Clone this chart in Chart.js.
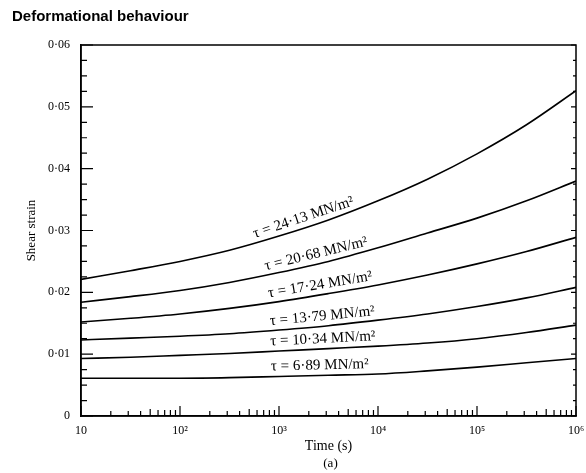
<!DOCTYPE html>
<html>
<head>
<meta charset="utf-8">
<script src="https://cdn.jsdelivr.net/npm/chart.js@4"></script>
<style>
  html, body { margin: 0; padding: 0; background: #fff; }
  #wrap { width: 586px; height: 473px; }
</style>
</head>
<body>
<div id="wrap"><canvas id="chart"></canvas></div>
<script>
// Deformational behaviour - shear strain vs time
const times = [10, 31.6, 100, 316, 1000, 3162, 10000, 31623, 100000, 316228, 1000000];

const strain2413 = [0.0221, 0.0235, 0.0250, 0.0268, 0.0291, 0.0317, 0.0348, 0.0383, 0.0424, 0.0471, 0.0526];
const strain2068 = [0.0184, 0.0193, 0.0203, 0.0216, 0.0232, 0.0250, 0.0272, 0.0296, 0.0320, 0.0348, 0.0380];
const strain1724 = [0.0152, 0.0158, 0.0165, 0.0174, 0.0185, 0.0198, 0.0212, 0.0228, 0.0246, 0.0266, 0.0289];
const strain1379 = [0.0123, 0.0126, 0.0129, 0.0133, 0.0139, 0.0146, 0.0155, 0.0165, 0.0177, 0.0191, 0.0208];
const strain1034 = [0.0093, 0.0095, 0.0098, 0.0101, 0.0105, 0.0109, 0.0113, 0.0118, 0.0125, 0.0135, 0.0147];
const strain689  = [0.0061, 0.0061, 0.0061, 0.0062, 0.0064, 0.0066, 0.0068, 0.0073, 0.0079, 0.0086, 0.0093];

const seriesLabels = ['τ = 24·13 MN/m²', 'τ = 20·68 MN/m²', 'τ = 17·24 MN/m²',
                      'τ = 13·79 MN/m²', 'τ = 10·34 MN/m²', 'τ = 6·89 MN/m²'];
const labelTimes = [1900, 2500, 2700, 2800, 2800, 2600];

const xMajorTicks = [10, 100, 1000, 10000, 100000, 1000000];
const xTickLabels = ['10', '10²', '10³', '10⁴', '10⁵', '10⁶'];
const xMinorMult = [2, 3, 4, 5, 6, 7, 8, 9];
const yMajorTicks = [0, 0.01, 0.02, 0.03, 0.04, 0.05, 0.06];
const yMinorTicks = [0.0025, 0.005, 0.0075, 0.0125, 0.015, 0.0175, 0.0225, 0.025, 0.0275,
                     0.0325, 0.035, 0.0375, 0.0425, 0.045, 0.0475, 0.0525, 0.055, 0.0575];

const serif = "'Liberation Serif', 'DejaVu Serif', serif";

const allSeries = [strain2413, strain2068, strain1724, strain1379, strain1034, strain689];

const datasets = allSeries.map((vals, i) => ({
    label: seriesLabels[i],
    data: times.map((t, j) => ({ x: t, y: vals[j] })),
    borderColor: '#000',
    borderWidth: 1.6,
    pointRadius: 0,
    fill: false,
    cubicInterpolationMode: 'monotone'
}));

// ticks pointing inwards, box around the plot, text extras
const decorPlugin = {
    id: 'decor',
    afterDraw(chart) {
        const ctx = chart.ctx;
        const area = chart.chartArea;
        const xs = chart.scales.x;
        const ys = chart.scales.y;
        ctx.save();
        ctx.strokeStyle = '#000';
        ctx.lineWidth = 1.5;
        ctx.strokeRect(area.left, area.top, area.right - area.left, area.bottom - area.top);

        ctx.lineWidth = 1.2;
        ctx.beginPath();
        yMajorTicks.forEach(v => {
            const y = ys.getPixelForValue(v);
            ctx.moveTo(area.left, y); ctx.lineTo(area.left + 12, y);
            ctx.moveTo(area.right, y); ctx.lineTo(area.right - 5, y);
        });
        yMinorTicks.forEach(v => {
            const y = ys.getPixelForValue(v);
            ctx.moveTo(area.left, y); ctx.lineTo(area.left + 6, y);
            ctx.moveTo(area.right, y); ctx.lineTo(area.right - 3, y);
        });
        xMajorTicks.forEach((d, k) => {
            const x = xs.getPixelForValue(d);
            ctx.moveTo(x, area.bottom); ctx.lineTo(x, area.bottom - 10);
            if (k === xMajorTicks.length - 1) return;
            xMinorMult.forEach(m => {
                const xm = xs.getPixelForValue(d * m);
                const len = m === 5 ? 7 : (m > 5 ? 6 : 5);
                ctx.moveTo(xm, area.bottom); ctx.lineTo(xm, area.bottom - len);
            });
        });
        ctx.stroke();

        // curve labels, rotated along each curve
        ctx.fillStyle = '#000';
        ctx.font = "15px " + serif;
        ctx.textAlign = 'center';
        ctx.textBaseline = 'alphabetic';
        chart.data.datasets.forEach((ds, i) => {
            const pts = chart.getDatasetMeta(i).data;
            const cx = xs.getPixelForValue(labelTimes[i]);
            const yAt = px => {
                for (let k = 1; k < pts.length; k++) {
                    if (pts[k].x >= px) {
                        const a = pts[k - 1], b = pts[k];
                        return a.y + (b.y - a.y) * (px - a.x) / (b.x - a.x);
                    }
                }
                return pts[pts.length - 1].y;
            };
            const cy = yAt(cx);
            const ang = Math.atan2(yAt(cx + 40) - yAt(cx - 40), 80);
            ctx.save();
            ctx.translate(cx, cy);
            ctx.rotate(ang);
            ctx.fillText(ds.label, 0, -6);
            ctx.restore();
        });

        // heading and sub-caption
        ctx.textAlign = 'left';
        ctx.font = "bold 15px 'Liberation Sans', Arial, sans-serif";
        ctx.fillText('Deformational behaviour', 12, 21);
        ctx.textAlign = 'center';
        ctx.font = "13px " + serif;
        ctx.fillText('(a)', (area.left + area.right) / 2 + 2, 467);
        ctx.restore();
    }
};

new Chart(document.getElementById('chart'), {
    type: 'line',
    data: { datasets: datasets },
    options: {
        responsive: true,
        maintainAspectRatio: false,
        animation: false,
        layout: { padding: { top: 45, right: 10, left: 0, bottom: 0 } },
        plugins: {
            legend: { display: false },
            tooltip: { enabled: false }
        },
        scales: {
            x: {
                type: 'logarithmic',
                min: 10,
                max: 1000000,
                afterBuildTicks: scale => {
                    scale.ticks = xMajorTicks.map(v => ({ value: v }));
                },
                afterFit: scale => {
                    scale.height = 57;
                    scale.paddingLeft = 0;
                    scale.paddingRight = 0;
                },
                grid: { display: false, drawTicks: false },
                border: { display: true, color: '#000', width: 1.5 },
                ticks: {
                    autoSkip: false,
                    maxRotation: 0,
                    padding: 8,
                    color: '#000',
                    font: { family: serif, size: 12 },
                    callback: value => xTickLabels[xMajorTicks.indexOf(value)]
                },
                title: {
                    display: true,
                    text: 'Time (s)',
                    color: '#000',
                    font: { family: serif, size: 14 },
                    padding: { top: 0, bottom: 18 }
                }
            },
            y: {
                min: 0,
                max: 0.06,
                afterBuildTicks: scale => {
                    scale.ticks = yMajorTicks.map(v => ({ value: v }));
                },
                afterFit: scale => {
                    scale.width = 81;
                    scale.paddingTop = 0;
                    scale.paddingBottom = 0;
                },
                grid: { display: false, drawTicks: false },
                border: { display: true, color: '#000', width: 1.5 },
                ticks: {
                    padding: 11,
                    color: '#000',
                    font: { family: serif, size: 12 },
                    callback: value => value === 0 ? '0' : value.toFixed(2).replace('.', '·')
                },
                title: {
                    display: true,
                    text: 'Shear strain',
                    color: '#000',
                    font: { family: serif, size: 13 },
                    padding: { top: 24, bottom: 0 }
                }
            }
        }
    },
    plugins: [decorPlugin]
});
</script>
</body>
</html>
